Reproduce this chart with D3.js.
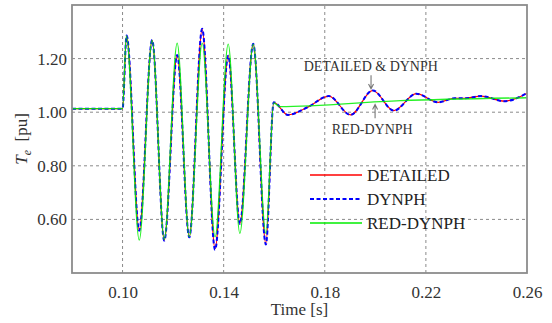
<!DOCTYPE html>
<html>
<head>
<meta charset="utf-8">
<script src="https://cdn.jsdelivr.net/npm/d3@7/dist/d3.min.js"></script>
<style>
  body { margin: 0; background: #fff; }
  svg text { font-family: "Liberation Serif", "Times New Roman", serif; fill: #333; }
</style>
</head>
<body>
<svg id="vis"></svg>
<script>
// axis ticks
var xTicks = [0.10, 0.14, 0.18, 0.22, 0.26];
var yTicks = [0.60, 0.80, 1.00, 1.20];

// series: [time (s), Te (pu)]
var detailed = [
  [0.080, 1.013], [0.100, 1.013], [0.1016, 1.285], [0.1066, 0.560], [0.1117, 1.268],
  [0.1165, 0.523], [0.1216, 1.212], [0.1264, 0.535], [0.1315, 1.309], [0.1366, 0.491],
  [0.1418, 1.210], [0.1464, 0.585], [0.1517, 1.254], [0.1567, 0.510], [0.1598, 1.037],
  [0.1654, 0.990], [0.1733, 1.019], [0.1816, 1.060], [0.1902, 0.990], [0.1990, 1.081],
  [0.2073, 1.006], [0.2162, 1.069], [0.2248, 1.037], [0.2314, 1.052], [0.2353, 1.052],
  [0.2419, 1.060], [0.2511, 1.041], [0.2600, 1.071]
];
var dynph = [
  [0.080, 1.013], [0.100, 1.013], [0.1016, 1.286], [0.1066, 0.558], [0.1117, 1.269],
  [0.1165, 0.521], [0.1216, 1.213], [0.1264, 0.533], [0.1315, 1.311], [0.1366, 0.487],
  [0.1418, 1.211], [0.1464, 0.583], [0.1517, 1.255], [0.1567, 0.506], [0.1598, 1.037],
  [0.1654, 0.990], [0.1733, 1.019], [0.1816, 1.060], [0.1902, 0.990], [0.1990, 1.081],
  [0.2073, 1.006], [0.2162, 1.069], [0.2248, 1.037], [0.2314, 1.052], [0.2353, 1.052],
  [0.2419, 1.060], [0.2511, 1.041], [0.2600, 1.071]
];
var redDynph = [
  [0.080, 1.013], [0.100, 1.013], [0.1015, 1.285], [0.1066, 0.523], [0.1117, 1.268],
  [0.1165, 0.525], [0.1216, 1.258], [0.1264, 0.535], [0.1315, 1.258], [0.1366, 0.535],
  [0.1418, 1.254], [0.1464, 0.548], [0.1517, 1.254], [0.1567, 0.548], [0.1598, 1.035],
  [0.1622, 1.021], [0.2100, 1.043], [0.2600, 1.054]
];

var legendNames = ["DETAILED", "DYNPH", "RED-DYNPH"];
var colors = ["#ff0000", "#0000ff", "#00ee00"];

var width = 552, height = 323;
var margin = {top: 5, right: 25, bottom: 50, left: 72};

var svg = d3.select("#vis")
  .attr("width", width)
  .attr("height", height);

var x = d3.scaleLinear().domain([0.08, 0.26]).range([margin.left, width - margin.right]);
var y = d3.scaleLinear().domain([0.40, 1.40]).range([height - margin.bottom, margin.top]);

// grid
svg.append("g").selectAll("line")
  .data(xTicks.slice(0, 4))
  .enter().append("line")
  .attr("x1", function(d) { return x(d); })
  .attr("x2", function(d) { return x(d); })
  .attr("y1", y(0.40)).attr("y2", y(1.40))
  .attr("stroke", "#8a8a8a").attr("stroke-width", 1).attr("stroke-dasharray", "3,3");

svg.append("g").selectAll("line")
  .data(yTicks)
  .enter().append("line")
  .attr("y1", function(d) { return y(d); })
  .attr("y2", function(d) { return y(d); })
  .attr("x1", x(0.08)).attr("x2", x(0.26))
  .attr("stroke", "#8a8a8a").attr("stroke-width", 1).attr("stroke-dasharray", "3,3");

// axes (labels only, frame drawn below)
var xAxis = svg.append("g")
  .attr("transform", "translate(0," + y(0.40) + ")")
  .call(d3.axisBottom(x).tickValues(xTicks).tickSize(0).tickPadding(13).tickFormat(d3.format(".2f")));
var yAxis = svg.append("g")
  .attr("transform", "translate(" + x(0.08) + ",0)")
  .call(d3.axisLeft(y).tickValues(yTicks).tickSize(0).tickPadding(5).tickFormat(d3.format(".2f")));
[xAxis, yAxis].forEach(function(a) {
  a.select(".domain").remove();
  a.selectAll("text").attr("font-size", 17).attr("font-family", null).style("fill", "#333");
});

// lines
var line = d3.line()
  .x(function(d) { return x(d[0]); })
  .y(function(d) { return y(d[1]); })
  .curve(d3.curveMonotoneX);

svg.append("path").datum(detailed)
  .attr("fill", "none").attr("stroke", colors[0]).attr("stroke-width", 1.2)
  .attr("d", line);
svg.append("path").datum(dynph)
  .attr("fill", "none").attr("stroke", colors[1]).attr("stroke-width", 2)
  .attr("stroke-dasharray", "4,2.5")
  .attr("d", line);
svg.append("path").datum(redDynph)
  .attr("fill", "none").attr("stroke", colors[2]).attr("stroke-width", 1.3)
  .attr("stroke-opacity", 0.85)
  .attr("d", line);

// frame
svg.append("rect")
  .attr("x", x(0.08)).attr("y", y(1.40))
  .attr("width", x(0.26) - x(0.08)).attr("height", y(0.40) - y(1.40))
  .attr("fill", "none").attr("stroke", "#8c8c8c").attr("stroke-width", 1.8);

// annotations
function arrow(xv, y0, y1) {
  var xp = x(xv), a = y(y0), b = y(y1);
  var dir = b > a ? -1 : 1;
  svg.append("path")
    .attr("d", "M" + xp + "," + a + "L" + xp + "," + b +
      "M" + (xp - 2.5) + "," + (b + dir * 5) + "L" + xp + "," + b + "L" + (xp + 2.5) + "," + (b + dir * 5))
    .attr("fill", "none").attr("stroke", "#777").attr("stroke-width", 1.1);
}
svg.append("text").attr("x", x(0.1982)).attr("y", y(1.155))
  .attr("text-anchor", "middle").attr("font-size", 14).text("DETAILED & DYNPH");
arrow(0.1983, 1.138, 1.087);
svg.append("text").attr("x", x(0.1988)).attr("y", y(0.917))
  .attr("text-anchor", "middle").attr("font-size", 14).text("RED-DYNPH");
arrow(0.1999, 0.977, 1.029);

// legend
var legend = svg.append("g").selectAll("g")
  .data(legendNames)
  .enter().append("g")
  .attr("transform", function(d, i) { return "translate(310," + (175 + i * 24) + ")"; });
legend.append("line")
  .attr("x1", 0).attr("x2", 52).attr("y1", 0).attr("y2", 0)
  .attr("stroke", function(d, i) { return colors[i]; })
  .attr("stroke-width", function(d, i) { return i == 1 ? 2 : 1.3; })
  .attr("stroke-dasharray", function(d, i) { return i == 1 ? "4,2.5" : null; });
legend.append("text")
  .attr("x", 57).attr("dy", "0.35em")
  .attr("font-size", 17).style("fill", "#222")
  .text(function(d) { return d; });

// axis titles
svg.append("text")
  .attr("x", (x(0.08) + x(0.26)) / 2).attr("y", 315)
  .attr("text-anchor", "middle").attr("font-size", 17).text("Time [s]");
var yt = svg.append("text")
  .attr("transform", "translate(27," + (y(0.40) + y(1.40)) / 2 + ") rotate(-90)")
  .attr("text-anchor", "middle").attr("font-size", 17);
yt.append("tspan").attr("font-style", "italic").text("T");
yt.append("tspan").attr("font-style", "italic").attr("font-size", 12).attr("dy", 4).text("e");
yt.append("tspan").attr("dy", -4).text("\u2002[pu]");
</script>
</body>
</html>
